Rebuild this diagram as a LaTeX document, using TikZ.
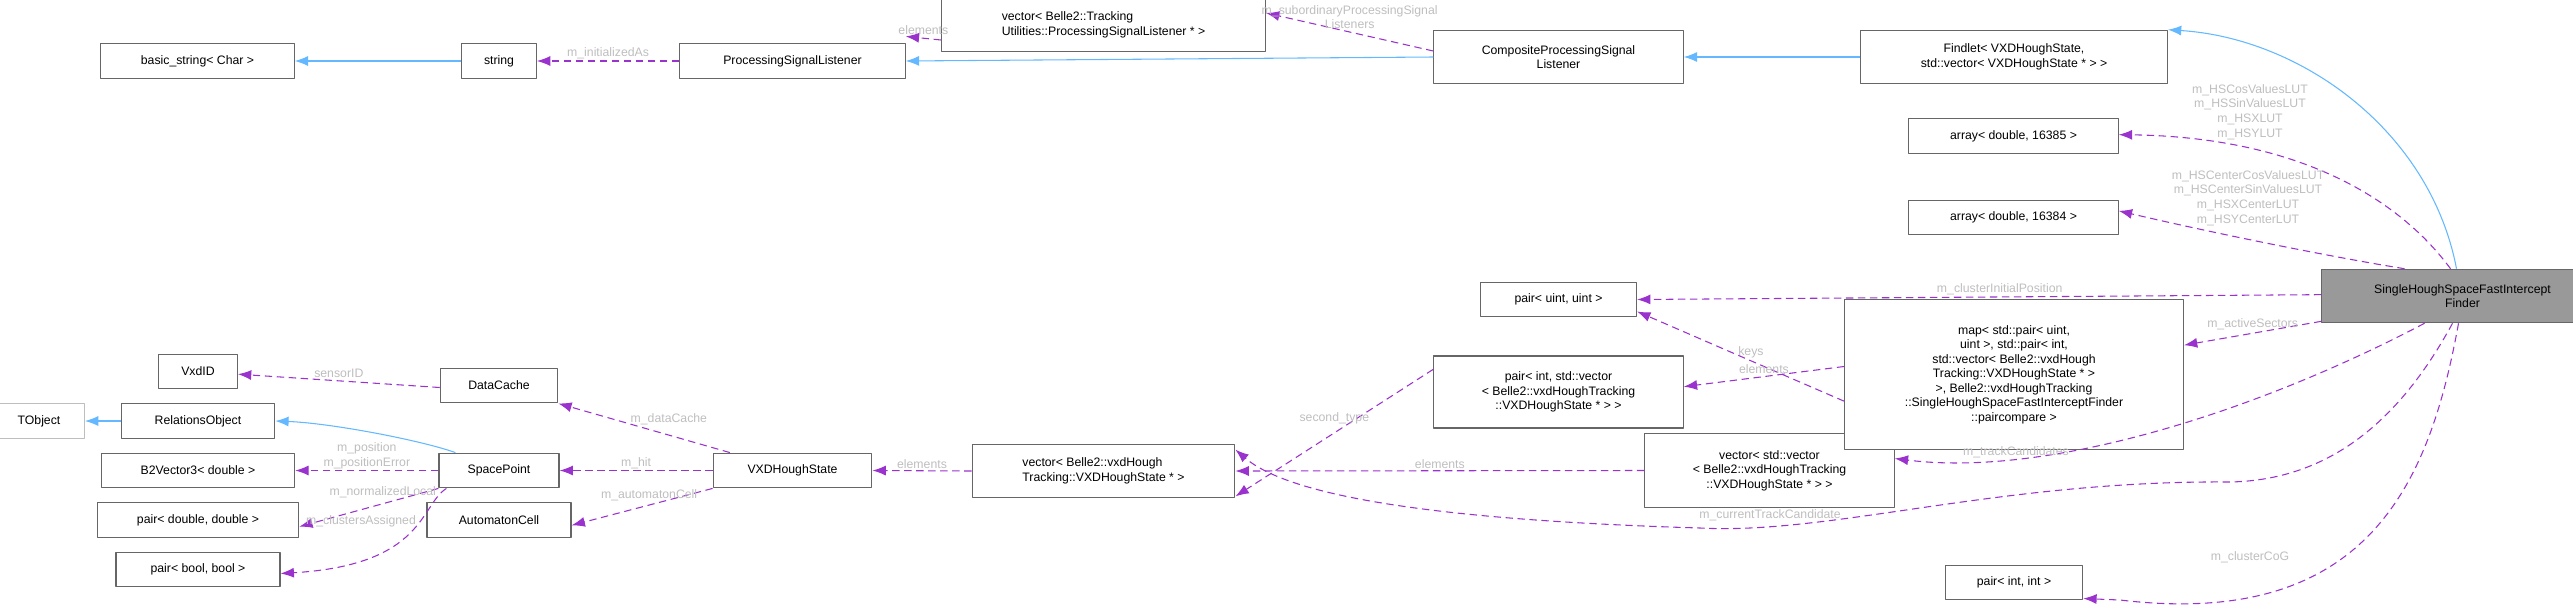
\documentclass[tikz,border=0pt]{standalone}
\usepackage{fontspec}
\setmainfont{Liberation Sans}
\usetikzlibrary{arrows.meta,positioning}
\definecolor{edgeviolet}{HTML}{9A32CD}
\definecolor{edgeblue}{HTML}{63B8FF}
\definecolor{labelgray}{HTML}{BEBEBE}
\definecolor{boxgray}{HTML}{666666}
\tikzset{
  cls/.style={draw=boxgray, line width=0.9pt, fill=white, inner sep=0pt, align=center,
    font=\fontsize{9.2}{10.9}\selectfont},
  ext/.style={cls, draw=labelgray},
  usage/.style={draw=edgeviolet, line width=0.8pt, dash pattern=on 5.5pt off 3.5pt,
    -{Latex[length=10pt,width=7.5pt]}},
  inherit/.style={draw=edgeblue, line width=0.8pt, -{Latex[length=10pt,width=7.5pt]}},
  lbl/.style={text=labelgray, align=center, inner sep=0pt, font=\fontsize{9.2}{10.9}\selectfont},
}
\begin{document}
\begin{tikzpicture}[x=0.75pt, y=-0.75pt, line cap=butt, line join=round]
  \useasboundingbox (0,0) rectangle (2573,611);

  % left column
  \node[cls, minimum width=145, minimum height=26] (bstr) at (197.5,61) {basic\_string< Char >};
  \node[ext, minimum width=68, minimum height=26] (tobj) at (39,421) {TObject};
  \node[cls, minimum width=115, minimum height=26] (relo) at (198,421) {RelationsObject};
  \node[cls, minimum width=59, minimum height=26] (vxdid) at (198,371.5) {VxdID};
  \node[cls, minimum width=145, minimum height=26] (b2vec) at (198,470.5) {B2Vector3< double >};
  \node[cls, minimum width=151, minimum height=26] (pdd) at (198,520) {pair< double, double >};
  \node[cls, minimum width=123, minimum height=26] (pbb) at (198,569.5) {pair< bool, bool >};

  \node[cls, minimum width=56, minimum height=26] (str) at (499,61) {string};
  \node[cls, minimum width=88, minimum height=26] (dcache) at (499,385.5) {DataCache};
  \node[cls, minimum width=90, minimum height=26] (spt) at (499,470.5) {SpacePoint};
  \node[cls, minimum width=108, minimum height=26] (acell) at (499,520) {AutomatonCell};

  \node[cls, minimum width=169, minimum height=26] (psl) at (792.5,61) {ProcessingSignalListener};
  \node[cls, minimum width=119, minimum height=26] (vxds) at (792.5,470.5) {VXDHoughState};

  \node[cls, minimum width=243, minimum height=40, align=left] (vpsl) at (1103.5,25)
    {vector< Belle2::Tracking\\Utilities::ProcessingSignalListener * >};
  \node[cls, minimum width=197, minimum height=40, align=left] (vvxd) at (1103.5,471)
    {vector< Belle2::vxdHough\\Tracking::VXDHoughState * >};

  \node[cls, minimum width=187, minimum height=40] (cpsl) at (1558.5,57)
    {CompositeProcessingSignal\\Listener};
  \node[cls, minimum width=117, minimum height=26] (puu) at (1558.5,299.5) {pair< uint, uint >};
  \node[cls, minimum width=187, minimum height=54] (piv) at (1558.5,392)
    {pair< int, std::vector\\< Belle2::vxdHoughTracking\\::VXDHoughState * > >};
  \node[cls, minimum width=187, minimum height=55] (vvv) at (1769.5,470.5)
    {vector< std::vector\\< Belle2::vxdHoughTracking\\::VXDHoughState * > >};

  \node[cls, minimum width=230, minimum height=40] (findlet) at (2014,57)
    {Findlet< VXDHoughState,\\std::vector< VXDHoughState * > >};
  \node[cls, minimum width=157, minimum height=26] (arrA) at (2013.5,136) {array< double, 16385 >};
  \node[cls, minimum width=157, minimum height=26] (arrB) at (2013.5,217.5) {array< double, 16384 >};
  \node[cls, minimum width=254, minimum height=113] (amap) at (2014,374.5)
    {map< std::pair< uint,\\uint >, std::pair< int,\\std::vector< Belle2::vxdHough\\Tracking::VXDHoughState * >\\>, Belle2::vxdHoughTracking\\::SingleHoughSpaceFastInterceptFinder\\::paircompare >};
  \node[cls, minimum width=103, minimum height=26] (pii) at (2014,582.5) {pair< int, int >};
  \node[cls, fill={rgb,255:red,153;green,153;blue,153}, minimum width=211, minimum height=40] (finder) at (2462.5,296)
    {SingleHoughSpaceFastIntercept\\Finder};

  % inheritance
  \draw[inherit] (str.west) -- (bstr.east);
  \draw[inherit] (relo.west) -- (tobj.east);
  \draw[inherit] (spt.north west) ++(17,0) .. controls (420,440) and (330,423) .. (relo.east);
  \draw[inherit] (cpsl.west) -- (psl.east);
  \draw[inherit] (findlet.west) -- (cpsl.east);
  \draw[inherit] (finder.north) ++(-6,0) .. controls (2430,130) and (2300,38) .. (findlet.north east);

  % usage
  \draw[usage] (psl.west) -- node[lbl, above=1pt] (l1) {m\_initializedAs} (str.east);
  \draw[usage] (vpsl.west) ++(0,15) -- node[lbl, above=2pt] (l2) {elements} ([yshift=5]psl.north east);
  \draw[usage] (cpsl.west) ++(0,-6) -- node[lbl, above=2pt] (l3) {m\_subordinaryProcessingSignal\\Listeners} ([yshift=9]vpsl.east);
  \draw[usage] (finder.north) ++(-12,0) .. controls (2400,200) and (2300,137) .. ([yshift=1]arrA.east);
  \node[lbl] (l4) at (2250,112) {m\_HSCosValuesLUT\\m\_HSSinValuesLUT\\m\_HSXLUT\\m\_HSYLUT};
  \draw[usage] (finder.north) ++(-58,0) .. controls (2320,255) and (2200,230) .. ([yshift=5]arrB.east);
  \node[lbl] (l5) at (2248,198) {m\_HSCenterCosValuesLUT\\m\_HSCenterSinValuesLUT\\m\_HSXCenterLUT\\m\_HSYCenterLUT};
  \draw[usage] ([yshift=1]finder.west) -- node[lbl, pos=0.47, above=1pt] (l6) {m\_clusterInitialPosition} (puu.east);
  \draw[usage] ([yshift=-20]amap.west) -- node[lbl, above=2pt, pos=0.45] (l7) {keys} ([yshift=-9]puu.east);
  \draw[usage] ([yshift=-19]finder.west) -- node[lbl, above=2pt] (l8) {m\_activeSectors} ([yshift=22]amap.east);
  \draw[usage] ([yshift=6]amap.west) -- node[lbl, above=2pt] (l9) {elements} ([yshift=4]piv.east);
  \draw[usage] ([yshift=17]piv.west) -- node[lbl, above=6pt] (l10) {second\_type} ([yshift=-19]vvxd.east);
  \draw[usage] (vvv.west) -- node[lbl, above=1pt] (l11) {elements} (vvxd.east);
  \draw[usage] (finder.south) ++(-38,0) .. controls (2260,410) and (2050,478) .. ([yshift=9]vvv.east);
  \node[lbl] (l12) at (2016,452) {m\_trackCandidates};
  \draw[usage] (finder.south) ++(-10,0) .. controls (2400,420) and (2330,480) .. (2230,482)
    .. controls (2000,480) and (1830,535) .. (1700,528)
    .. controls (1500,522) and (1300,505) .. ([yshift=16]vvxd.east);
  \node[lbl] (l13) at (1770,515) {m\_currentTrackCandidate};
  \draw[usage] (finder.south) ++(-4,0) .. controls (2430,480) and (2370,630) .. (2120,600) -- ([yshift=-12]pii.east);
  \node[lbl] (l14) at (2250,557) {m\_clusterCoG};
  \draw[usage] (vvxd.west) -- node[lbl, above=1pt] (l15) {elements} (vxds.east);
  \draw[usage] ([xshift=-47]vxds.north) -- node[lbl, above right=0pt and -4pt, pos=0.55] (l16) {m\_dataCache} (dcache.south east);
  \draw[usage] (vxds.west) -- node[lbl, above=1pt] (l17) {m\_hit} (spt.east);
  \draw[usage] (vxds.south west) -- node[lbl, above=3pt, pos=0.45] (l18) {m\_automatonCell} ([yshift=-4]acell.east);
  \draw[usage] (dcache.west) ++(0,2) -- node[lbl, above=2pt] (l19) {sensorID} ([yshift=-2]vxdid.east);
  \draw[usage] (spt.west) -- node[lbl, above=1pt] (l20) {m\_position\\m\_positionError} (b2vec.east);
  \draw[usage] (spt.south west) -- node[lbl, above=4pt, pos=0.4] (l21) {m\_normalizedLocal} ([yshift=-5]pdd.east);
  \draw[usage] (spt.south west) ++(8,0) .. controls (420,505) and (425,565) .. ([yshift=-3]pbb.east);
  \node[lbl] (l22) at (361,521) {m\_clustersAssigned};
\end{tikzpicture}
\end{document}
